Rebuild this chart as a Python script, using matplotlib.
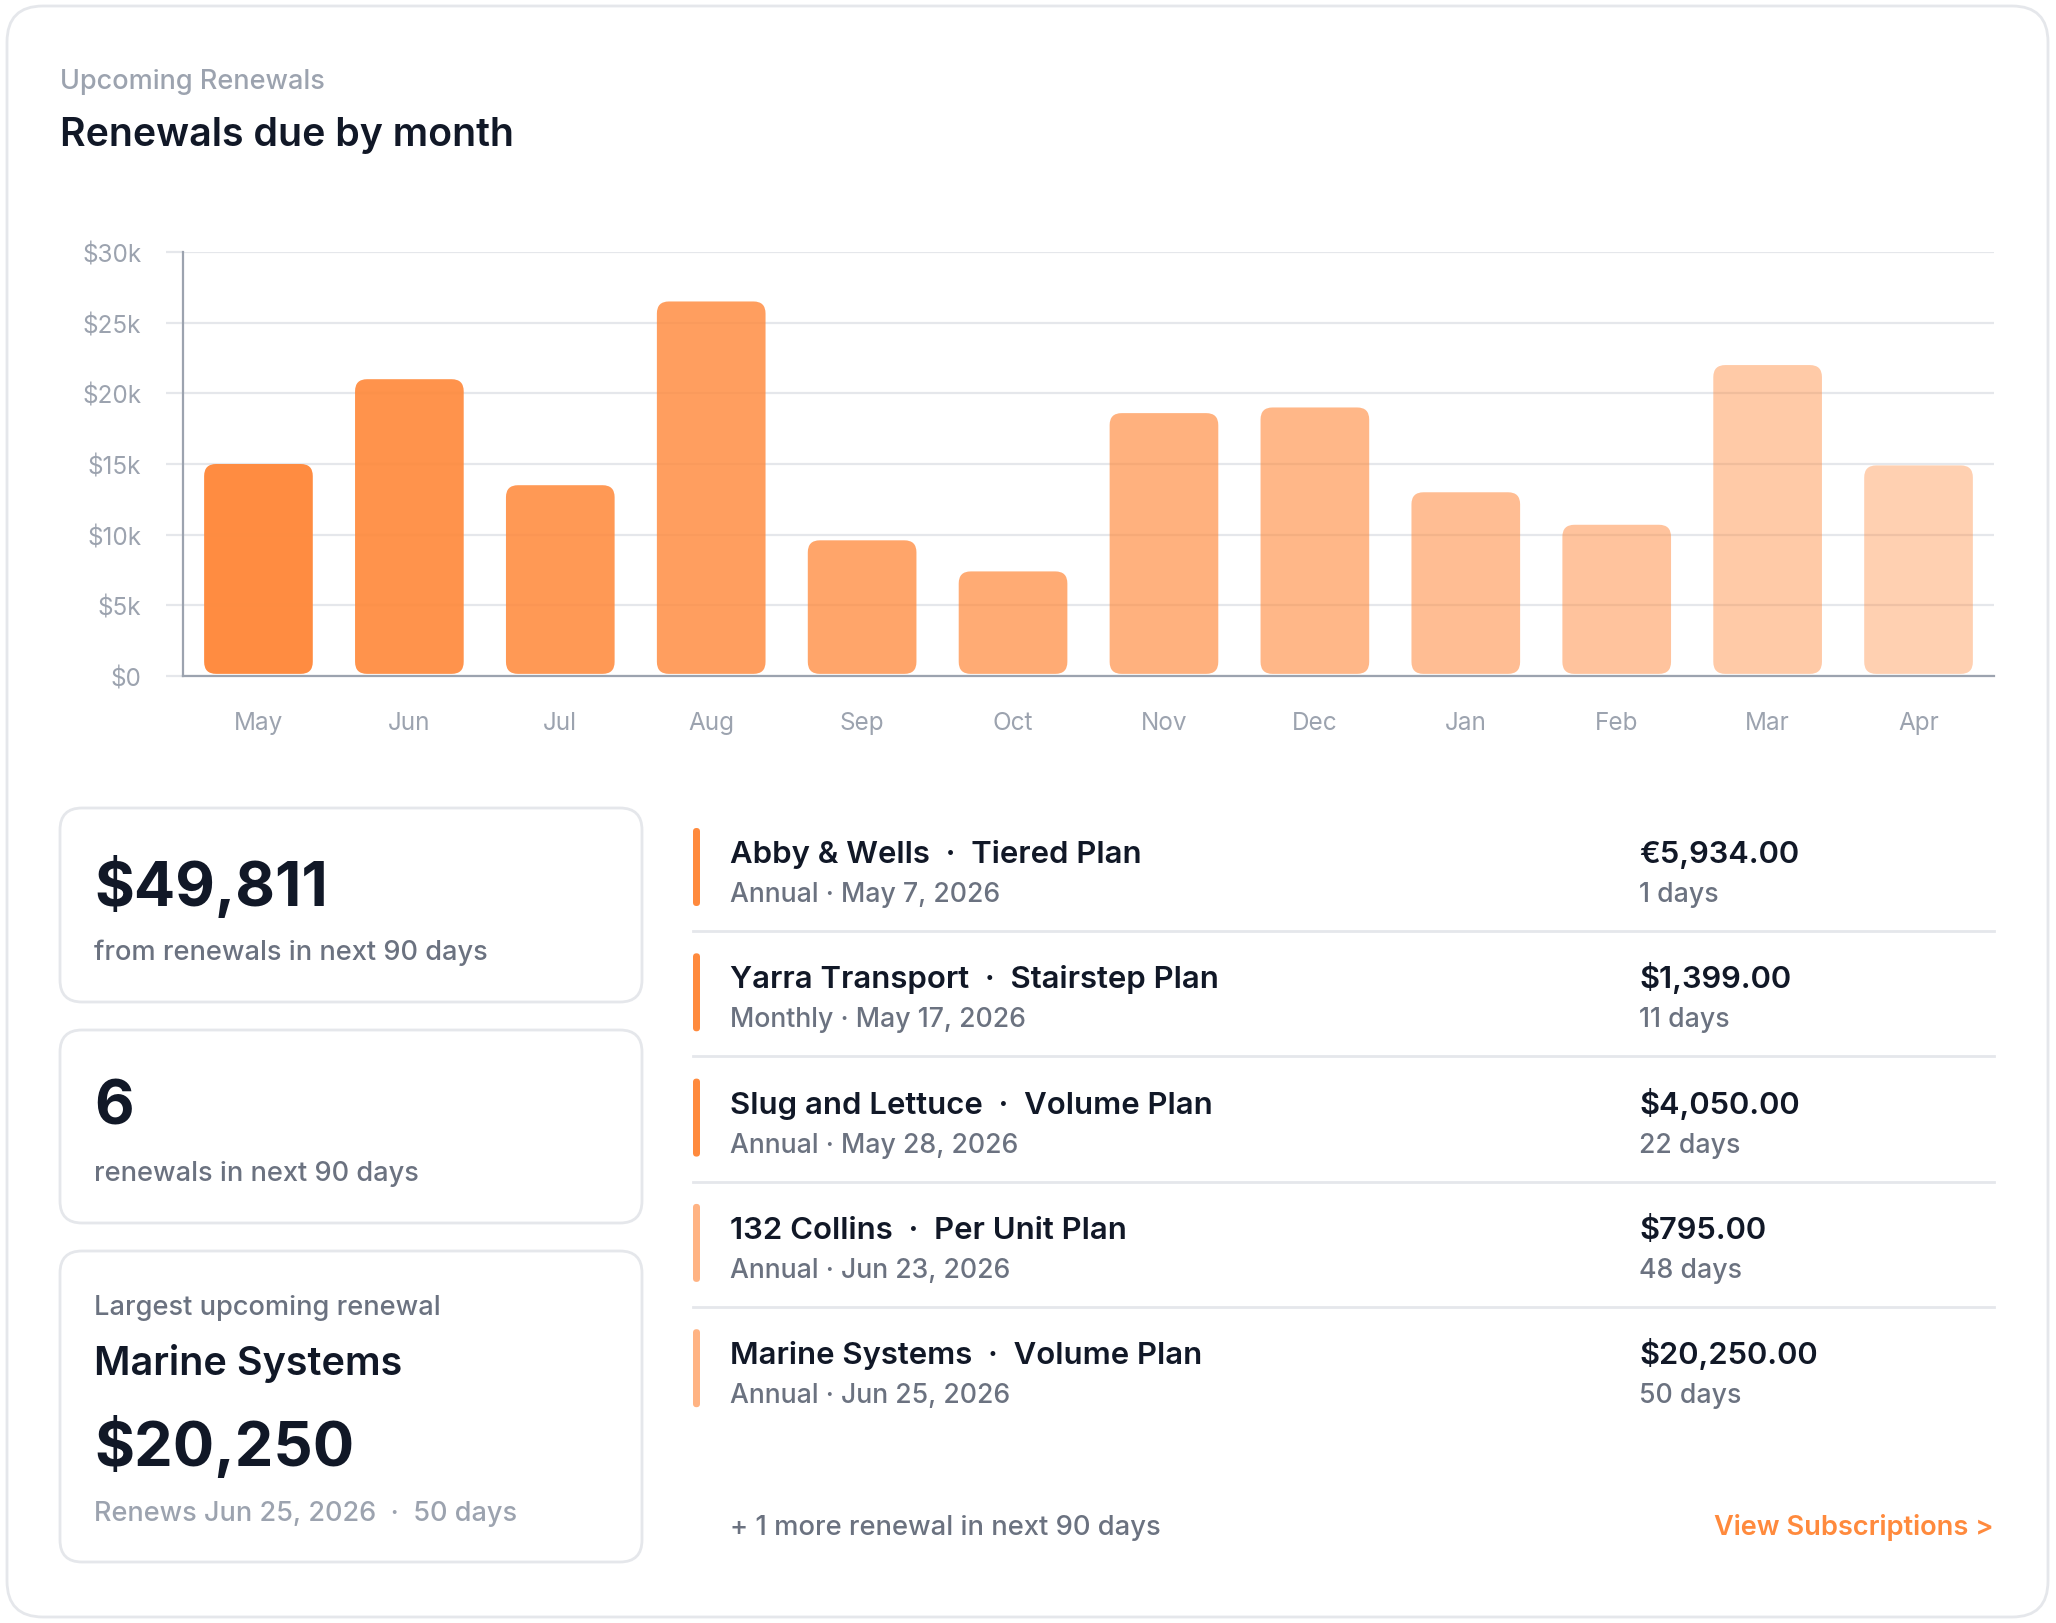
import numpy as np
import matplotlib
matplotlib.use("Agg")
import matplotlib.pyplot as plt
from matplotlib.patches import FancyBboxPatch

plt.rcParams['font.family'] = ['Inter', 'DejaVu Sans']

# 数据
months = ['May', 'Jun', 'Jul', 'Aug', 'Sep', 'Oct', 'Nov', 'Dec', 'Jan', 'Feb', 'Mar', 'Apr']
renewals = [15000, 21000, 13500, 26500, 9600, 7400, 18600, 19000, 13000, 10700, 22000, 14900]
y_ticks = [0, 5000, 10000, 15000, 20000, 25000, 30000]
y_tick_labels = ['$0', '$5k', '$10k', '$15k', '$20k', '$25k', '$30k']

customers = ['Abby & Wells', 'Yarra Transport', 'Slug and Lettuce', '132 Collins', 'Marine Systems']
plans = ['Tiered Plan', 'Stairstep Plan', 'Volume Plan', 'Per Unit Plan', 'Volume Plan']
cycles = ['Annual', 'Monthly', 'Annual', 'Annual', 'Annual']
dates = ['May 7, 2026', 'May 17, 2026', 'May 28, 2026', 'Jun 23, 2026', 'Jun 25, 2026']
amounts = ['€5,934.00', '$1,399.00', '$4,050.00', '$795.00', '$20,250.00']
days_left = [1, 11, 22, 48, 50]

total_90 = '$49,811'
count_90 = '6'
largest_name = 'Marine Systems'
largest_amount = '$20,250'
largest_info = 'Renews Jun 25, 2026  ·  50 days'
more_text = '+ 1 more renewal in next 90 days'

ORANGE = '#FF8A3D'
LIGHT_ORANGE = '#FFB383'
DARK = '#111827'
GRAY = '#6B7280'
LIGHT_GRAY = '#9CA3AF'
BORDER = '#E5E7EB'

W, H = 2056, 1624
fig = plt.figure(figsize=(W / 100, H / 100), dpi=100)
fig.patch.set_facecolor('white')

# 背景坐标系（像素坐标）
bg = fig.add_axes([0, 0, 1, 1])
bg.set_xlim(0, W)
bg.set_ylim(H, 0)
bg.axis('off')

def card(x0, y0, x1, y1, r=22, lw=2):
    bg.add_patch(FancyBboxPatch((x0, y0), x1 - x0, y1 - y0,
                                boxstyle=f"round,pad=0,rounding_size={r}",
                                fc='white', ec=BORDER, lw=lw, zorder=1))

card(7, 7, 2048, 1618, r=36, lw=2)

bg.text(60, 89, 'Upcoming Renewals', fontsize=19.5, fontweight='medium', color=LIGHT_GRAY,
        va='baseline', zorder=3)
bg.text(60, 146, 'Renewals due by month', fontsize=28.3, color=DARK, fontweight='semibold',
        va='baseline', zorder=3)

# 柱状图
left, right, top, base = 183, 1994, 253, 677
ax = fig.add_axes([left / W, 1 - base / H, (right - left) / W, (base - top) / H])
ax.set_facecolor('none')
x = np.arange(len(months))
ax.set_xlim(-0.5, len(months) - 0.5)
ax.set_ylim(0, 30000)

px_x = (right - left) / len(months)
px_y = (base - top) / 30000
aspect = px_x / px_y
radius = 12 / px_x

alphas = np.linspace(0.98, 0.4, len(months))
bars = ax.bar(x, renewals, width=0.72, color=ORANGE)
for b, a in zip(bars, alphas):
    b.set_visible(False)
    ax.add_patch(FancyBboxPatch((b.get_x(), b.get_y() + 150), b.get_width(), b.get_height() - 150,
                                boxstyle=f"round,pad=0,rounding_size={radius}",
                                mutation_aspect=aspect, fc=ORANGE, alpha=a, lw=0, zorder=3))

ax.set_yticks(y_ticks)
ax.set_yticklabels(y_tick_labels)
ax.set_xticks(x)
ax.set_xticklabels(months)
ax.grid(axis='y', color=BORDER, lw=1.6)
ax.set_axisbelow(True)
for s in ['top', 'right']:
    ax.spines[s].set_visible(False)
for s in ['left', 'bottom']:
    ax.spines[s].set_color(LIGHT_GRAY)
    ax.spines[s].set_linewidth(1.6)
    ax.spines[s].set_zorder(4)
ax.tick_params(axis='y', length=12, width=1.6, color=BORDER, pad=18, labelsize=17.5, labelcolor=LIGHT_GRAY)
ax.tick_params(axis='x', length=0, pad=25, labelsize=17.5, labelcolor=LIGHT_GRAY)

# 左侧统计卡片
card(60, 809, 642, 1003)
bg.text(94, 906, total_90, fontsize=44, fontweight='bold', color=DARK, va='baseline', zorder=3)
bg.text(94, 960, 'from renewals in next 90 days', fontsize=19.6, fontweight='medium', color=GRAY,
        va='baseline', zorder=3)

card(60, 1031, 642, 1224)
bg.text(94, 1125, count_90, fontsize=44, fontweight='bold', color=DARK, va='baseline', zorder=3)
bg.text(94, 1181, 'renewals in next 90 days', fontsize=19.6, fontweight='medium', color=GRAY,
        va='baseline', zorder=3)

card(60, 1252, 642, 1563)
bg.text(94, 1315, 'Largest upcoming renewal', fontsize=19.6, fontweight='medium', color=GRAY,
        va='baseline', zorder=3)
bg.text(94, 1375, largest_name, fontsize=28.5, fontweight='semibold', color=DARK, va='baseline', zorder=3)
bg.text(94, 1466, largest_amount, fontsize=44.2, fontweight='bold', color=DARK, va='baseline', zorder=3)
bg.text(94, 1521, largest_info, fontsize=19.5, fontweight='medium', color=LIGHT_GRAY,
        va='baseline', zorder=3)

# 右侧续费列表
row_h = 125.3
for i in range(len(customers)):
    y0 = 863 + i * row_h
    accent = ORANGE if days_left[i] <= 30 else LIGHT_ORANGE
    bg.add_patch(FancyBboxPatch((693, y0 - 34), 7, 78, boxstyle="round,pad=0,rounding_size=3.5",
                                fc=accent, lw=0, zorder=3))
    bg.text(730, y0, f'{customers[i]}  ·  {plans[i]}', fontsize=22.4, fontweight='semibold',
            color=DARK, va='baseline', zorder=3)
    bg.text(730, y0 + 39, f'{cycles[i]} · {dates[i]}', fontsize=19.2, fontweight='medium',
            color=GRAY, va='baseline', zorder=3)
    bg.text(1639, y0, amounts[i], fontsize=22.2, fontweight='semibold', color=DARK,
            va='baseline', zorder=3)
    bg.text(1639, y0 + 39, f'{days_left[i]} days', fontsize=19.2, fontweight='medium',
            color=GRAY, va='baseline', zorder=3)
    if i < len(customers) - 1:
        bg.plot([693, 1994], [y0 + 69, y0 + 69], color=BORDER, lw=2, zorder=2)

bg.text(730, 1535, more_text, fontsize=19.7, fontweight='medium', color=GRAY, va='baseline', zorder=3)
bg.text(1993, 1535, 'View Subscriptions >', fontsize=19.6, fontweight='semibold', color=ORANGE,
        ha='right', va='baseline', zorder=3)

fig.savefig('out.png', dpi=100, facecolor='white')
